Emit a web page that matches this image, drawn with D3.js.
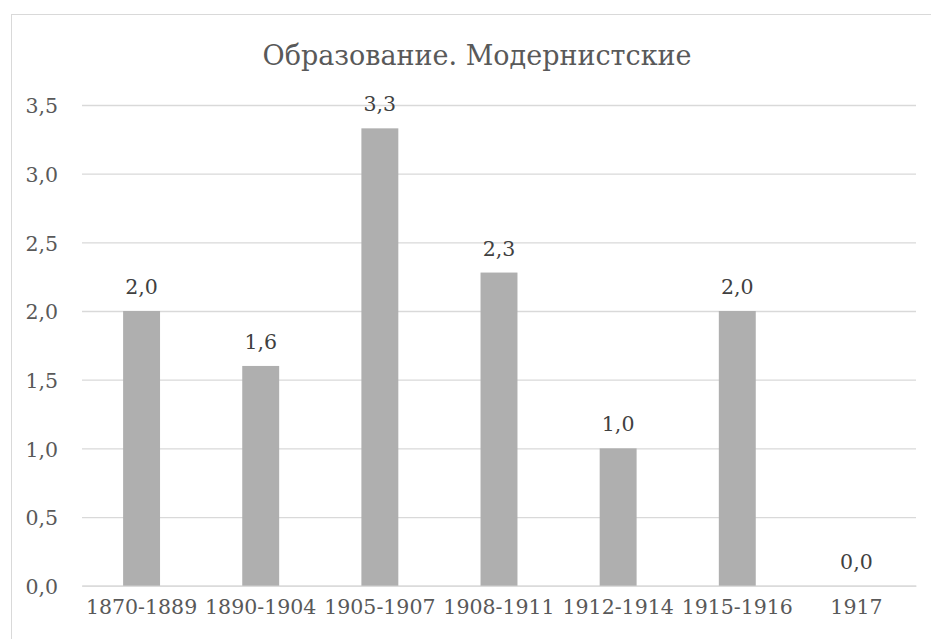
<!DOCTYPE html>
<html><head><meta charset="utf-8">
<script src="https://cdn.jsdelivr.net/npm/d3@7"></script>
<style>body{margin:0;background:#fff}svg{display:block}</style>
</head><body>
<script>
const categories = ["1870-1889","1890-1904","1905-1907","1908-1911","1912-1914","1915-1916","1917"];
const values = [2.0, 1.6, 3.33, 2.28, 1.0, 2.0, 0.0];
const yTicks = [0, 0.5, 1.0, 1.5, 2.0, 2.5, 3.0, 3.5];
const title = "Образование. Модернистские";

(function(){
const W = 931, H = 639;
const font = "'DejaVu Serif', serif";
const textColor = "#595959";
const fs = "20.5px";
const svg = d3.select("body").append("svg").attr("width", W).attr("height", H);
svg.append("rect").attr("x",11.5).attr("y",14.5).attr("width",930).attr("height",640)
  .attr("fill","#fff").attr("stroke","#d9d9d9").attr("stroke-width",1);

const mLeft = 82, mRight = 916, mTop = 105, mBottom = 585.7;
const x = d3.scaleBand().domain(categories).range([mLeft, mRight]).paddingInner(0.69).paddingOuter(0.345);
const y = d3.scaleLinear().domain([0, 3.5]).range([mBottom, mTop]);
const fmt = v => d3.format(".1f")(v).replace(".", ",");

const yAxis = d3.axisLeft(y).tickValues(yTicks).tickSize(-(mRight-mLeft)).tickFormat(fmt).tickPadding(24);
const gy = svg.append("g").attr("transform",`translate(${mLeft},0)`).call(yAxis);
gy.select(".domain").remove();
gy.selectAll(".tick line").attr("stroke","#d9d9d9").attr("stroke-width",1.3);
gy.selectAll(".tick text").attr("fill",textColor).style("font-family",font).style("font-size",fs).attr("dy","0.38em");

const xAxis = d3.axisBottom(x).tickSize(0).tickPadding(14);
const gx = svg.append("g").attr("transform",`translate(0,${mBottom})`).call(xAxis);
gx.select(".domain").attr("stroke","#d9d9d9").attr("stroke-width",1.3);
gx.selectAll(".tick text").attr("fill",textColor).style("font-family",font).style("font-size",fs);

svg.append("g").selectAll("rect").data(values).join("rect")
  .attr("x",(d,i)=>x(categories[i])).attr("width",x.bandwidth())
  .attr("y",d=>y(d)).attr("height",d=>mBottom-y(d)).attr("fill","#afafaf");

svg.append("g").selectAll("text").data(values).join("text")
  .attr("x",(d,i)=>x(categories[i])+x.bandwidth()/2).attr("y",d=>y(d)-17)
  .attr("text-anchor","middle").attr("fill","#404040")
  .style("font-family",font).style("font-size",fs).text(fmt);

svg.append("text").attr("x",477).attr("y",65).attr("text-anchor","middle")
  .attr("fill",textColor).style("font-family",font).style("font-size","27px").text(title);
})();
</script>
</body></html>
